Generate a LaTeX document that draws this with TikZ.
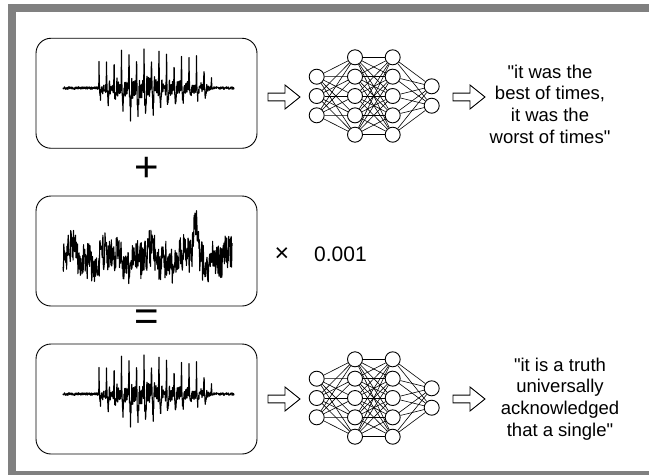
\documentclass[tikz,border=0pt]{standalone}
\usepackage{fontspec}
\setmainfont{Liberation Sans}[Ligatures=TeXOff]
\usetikzlibrary{backgrounds}
\definecolor{framegray}{HTML}{808080}
\tikzset{
  wavebox/.style={draw, line width=0.9pt, rounded corners=15pt, minimum width=221pt, minimum height=110pt, inner sep=0pt},
  neuron/.style={circle, draw, line width=0.9pt, minimum size=15pt, inner sep=0pt, fill=white},
  syn/.style={line width=0.6pt},
  blockarr/.style={draw, line width=0.9pt, fill=white, line join=miter},
  quote/.style={font=\fontsize{18.5}{21.7}\selectfont, align=center, inner sep=0pt},
  opsign/.style={font=\fontsize{42}{42}\selectfont, inner sep=0pt},
  scaletext/.style={font=\fontsize{21}{24}\selectfont, inner sep=0pt},
  wave/.style={line width=1.1pt, line join=round},
  declare function={
    inb(\x) = (\x>=99)*(\x<=212);
    envP(\x) = inb(\x)*((\x<103) ? 0.6+0.4*(\x-99)/4 : ((\x<195) ? 1-0.35*(\x-103)/92 : 0.65-0.45*(\x-195)/17));
    envN(\x) = inb(\x)*((\x<135) ? 0.35+0.65*(\x-99)/36 : ((\x<200) ? 1-0.55*(\x-135)/65 : 0.45-0.35*(\x-200)/12));
    phs(\x) = mod(\x-99+75,7.5)/7.5;
    posp(\x) = exp(-(phs(\x)/0.05)^2) + exp(-((phs(\x)-1)/0.05)^2);
    negp(\x) = exp(-((phs(\x)-0.2)/0.06)^2);
    osc(\x) = exp(-1.5*phs(\x))*cos(1800*phs(\x));
  }
}
\newcommand\qq{"}
\newcommand\speechwave[1]{%
  \pgfmathsetseed{4242}%
  \draw[wave] plot[domain=63:234, samples=685, variable=\x]
    ({\x},{#1 - 41*envP(\x)*(0.65+0.35*rand)*posp(\x) + 43*envN(\x)*(0.7+0.3*rand)*negp(\x) - 13*envN(\x)*osc(\x) + (1.3+6*envN(\x))*rand});
}
\newcommand\noisewave[1]{%
  \pgfmathsetseed{777}%
  \draw[wave] plot[domain=63:232, samples=420, variable=\x]
    ({\x},{#1 + 19*rand + 6*sin(9*\x) + 4*sin(23*\x+40) - 36*exp(-((\x-195)/2.2)^2)});
}
\newcommand\blockarrow[1]{%
  \draw[blockarr] (#1) ++(0,-3.9) -- ++(17,0) -- ++(0,-8.1) -- ++(15,12) -- ++(-15,12) -- ++(0,-8.1) -- ++(-17,0) -- cycle;
}
\newcommand\nnet[2]{%
  \foreach \i/\yy in {1/76.7,2/96,3/115.3} \node[neuron] (#1a\i) at (316.7,{\yy+#2}) {};
  \foreach \i/\yy in {1/57.3,2/76.65,3/96,4/115.35,5/134.7} \node[neuron] (#1b\i) at (355,{\yy+#2}) {};
  \foreach \i/\yy in {1/57.3,2/76.65,3/96,4/115.35,5/134.7} \node[neuron] (#1c\i) at (392.7,{\yy+#2}) {};
  \foreach \i/\yy in {1/86.3,2/105.7} \node[neuron] (#1d\i) at (431.7,{\yy+#2}) {};
  \begin{pgfonlayer}{background}
    \foreach \i in {1,2,3} \foreach \j in {1,...,5} \draw[syn] (#1a\i) -- (#1b\j);
    \foreach \i in {1,...,5} \foreach \j in {1,...,5} \draw[syn] (#1b\i) -- (#1c\j);
    \foreach \i in {1,...,5} \foreach \j in {1,2} \draw[syn] (#1c\i) -- (#1d\j);
  \end{pgfonlayer}
}
\begin{document}
\begin{tikzpicture}[x=1pt,y=-1pt]
\useasboundingbox (0,0) rectangle (649,475);
% frame
\fill[framegray] (8,4) rectangle (649,12);
\fill[framegray] (8,4) rectangle (16,475);
\fill[framegray] (8,471) rectangle (649,475);

% row 1
\node[wavebox] (box1) at (146.5,93.25) {};
\speechwave{88}
\coordinate (arA1) at (268,97);
\blockarrow{arA1}
\nnet{p}{0}
\coordinate (arB1) at (453,97);
\blockarrow{arB1}
\node[quote] (txt1) at (550,104) {\qq it was the\\best of times,\\it was the\\worst of times\qq};

% plus
\node[opsign] (plus) at (146.5,169.5) {+};

% row 2
\node[wavebox] (box2) at (146.5,251) {};
\noisewave{258}
\node[scaletext, font=\fontsize{25}{28}\selectfont] (times) at (282,255) {×};
\node[scaletext, anchor=west] (scale) at (314,254) {0.001};

% equals
\node[opsign] (eq) at (146.5,320) {=};

% row 3
\node[wavebox] (box3) at (146.5,399) {};
\speechwave{394}
\coordinate (arA3) at (268,399);
\blockarrow{arA3}
\nnet{q}{302}
\coordinate (arB3) at (453,399);
\blockarrow{arB3}
\node[quote] (txt3) at (560,399) {\qq it is a truth\\universally\\acknowledged\\that a single\qq};
\end{tikzpicture}
\end{document}
